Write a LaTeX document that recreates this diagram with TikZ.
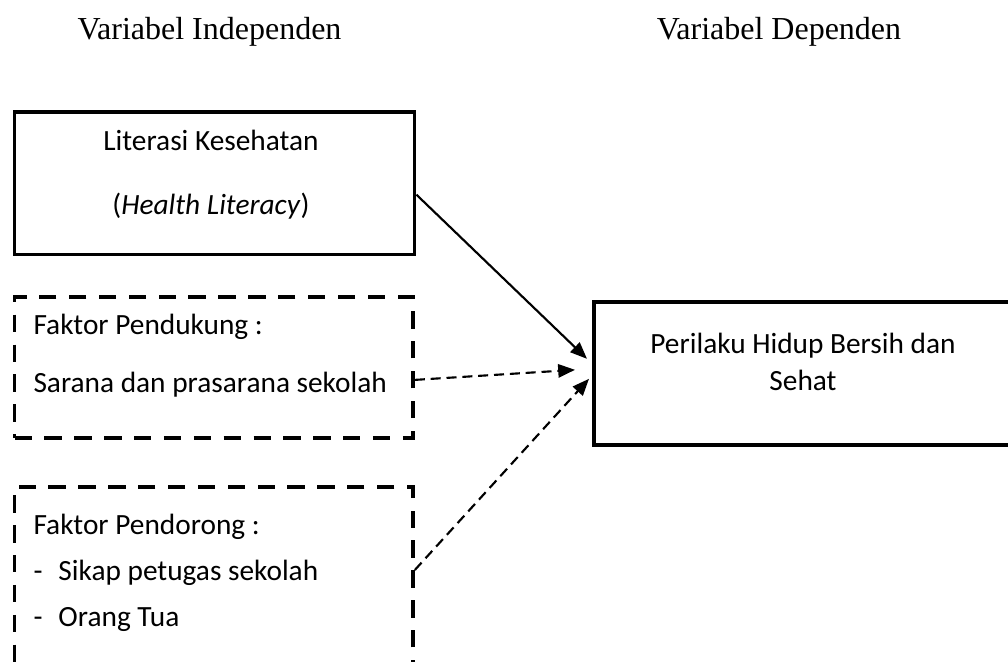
\documentclass[tikz,border=0pt]{standalone}
\usepackage{fontspec}
\setmainfont{Liberation Serif}
\newfontfamily\calibri{Carlito}
\usetikzlibrary{calc,arrows.meta}

\begin{document}
\begin{tikzpicture}[x=0.375pt,y=-0.375pt,
  every node/.style={inner sep=0},
  head/.style={font=\fontsize{12}{14}\selectfont},
  box/.style={draw,line width=1.4pt,anchor=north west},
  dbox/.style={box,dash pattern=on 6.5pt off 4.7pt},
  txt/.style={font=\calibri\fontsize{11}{#1}\selectfont},
  txt/.default=13.9,
  pijl/.style={line width=0.8pt,-{Triangle[length=6.3pt,width=5pt]}},
  dpijl/.style={pijl,dash pattern=on 3.75pt off 2.2pt}]

\useasboundingbox (0,0) rectangle (1008,662);
\clip (0,0) rectangle (1008,662);

\node[head] (indep) at (209.5,32) {Variabel Independen};
\node[head] (dep) at (779,32) {Variabel Dependen};

% variabel independen
\node[box,minimum width=150pt,minimum height=53.5pt] (literasi) at (12.7,110) {};
\node[txt=24,align=center] (literasitxt) at (211,175)
  {Literasi Kesehatan\\(\textit{Health Literacy})};

\node[dbox,minimum width=149.4pt,minimum height=52.9pt] (pendukung) at (12.7,295) {};
\node[txt=21.75,align=left,anchor=west] (pendukungtxt) at (33,356)
  {Faktor Pendukung :\\Sarana dan prasarana sekolah};

\node[dbox,minimum width=149.4pt,minimum height=90pt] (pendorong) at (12.7,485) {};
\node[txt=17.25,align=left,anchor=west] (pendorongtxt) at (33,573)
  {Faktor Pendorong :\\-\hspace{6pt}Sikap petugas sekolah\\-\hspace{6pt}Orang Tua};

% variabel dependen
\node[box,minimum width=163pt,minimum height=53.6pt] (phbs) at (592,300) {};
\node[txt,align=center] (phbstxt) at (803,362) {Perilaku Hidup Bersih dan\\Sehat};

\draw[pijl] ($(literasi.east)+(0,11.5)$) -- ($(phbs.west)+(-5,-14.5)$);
\draw[dpijl] ($(pendukung.east)+(0,12.5)$) -- ($(phbs.west)+(-17,-3.5)$);
\draw[dpijl] ($(pendorong.north east)+(0,85)$) -- ($(phbs.west)+(-3,5.5)$);

\end{tikzpicture}
\end{document}
